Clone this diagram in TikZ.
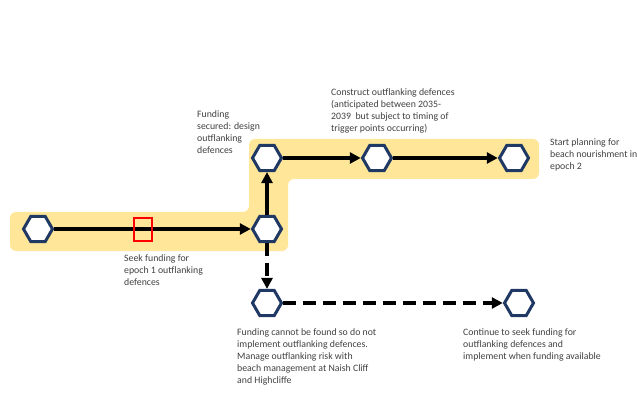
\documentclass[tikz,border=0pt]{standalone}
\usepackage{fontspec}
\setmainfont{Carlito}
\usepackage{xcolor}
\usetikzlibrary{arrows.meta, positioning, shapes.geometric}
\definecolor{navy}{HTML}{1F3864}
\definecolor{band}{HTML}{FFE699}

\begin{document}
\begin{tikzpicture}[x=1pt, y=-1pt, >={Triangle[length=11pt, width=11pt]},
    hexnode/.style={regular polygon, regular polygon sides=6, draw=navy, line width=3pt, fill=white, minimum size=29pt, inner sep=0pt},
    note/.style={anchor=north west, align=left, inner sep=0pt, text=black!75, font=\fontsize{9.8}{12}\selectfont},
    flow/.style={->, line width=4pt},
    maybe/.style={flow, dash pattern=on 13pt off 7pt}]
            \useasboundingbox (0,0) rectangle (637,398);
            \fill[band, rounded corners=6pt] (10,212) -- (249,212) -- (249,139) -- (539,139) -- (539,179) -- (288,179) -- (288,251) -- (10,251) -- cycle;

            \node[hexnode] (start) at (38,229) {};
            \node[hexnode, right of=start, node distance=229pt] (seek) {};
            \node[hexnode, above of=seek, node distance=71pt] (design) {};
            \node[hexnode, right of=design, node distance=110pt] (build) {};
            \node[hexnode, right of=build, node distance=137pt] (plan) {};
            \node[hexnode, below of=seek, node distance=74pt] (nofund) {};
            \node[hexnode, right of=nofund, node distance=252pt] (retry) {};

            \draw[flow] (start) -- (seek);
            \draw[flow] (seek) -- (design);
            \draw[flow] (design) -- (build);
            \draw[flow] (build) -- (plan);
            \draw[maybe] (seek) -- (nofund);
            \draw[maybe] (nofund) -- (retry);

            \node[draw=red, line width=1.5pt, minimum width=18pt, minimum height=23pt, inner sep=0pt] (marker) at (143,229.5) {};

            \node[note] (securedtxt) at (197,110) {Funding\\secured: design\\outflanking\\defences};
            \node[note] (buildtxt) at (331,88) {Construct outflanking defences\\(anticipated between 2035-\\2039\ \ but subject to timing of\\trigger points occurring)};
            \node[note] (plantxt) at (550,138) {Start planning for\\beach nourishment in\\epoch 2};
            \node[note] (seektxt) at (124,254) {Seek funding for\\epoch 1 outflanking\\defences};
            \node[note] (nofundtxt) at (237,328) {Funding cannot be found so do not\\implement outflanking defences.\\Manage outflanking risk with\\beach management at Naish Cliff\\and Highcliffe};
            \node[note] (retrytxt) at (463,328) {Continue to seek funding for\\outflanking defences and\\implement when funding available};
        \end{tikzpicture}
\end{document}
